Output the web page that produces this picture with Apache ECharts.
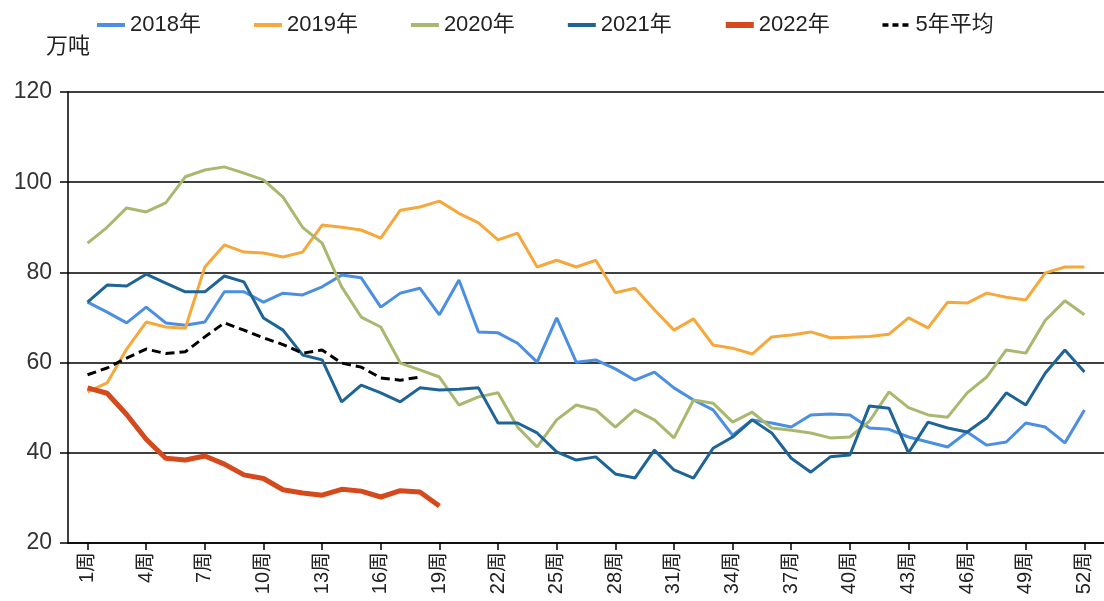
<!DOCTYPE html>
<html>
<head>
<meta charset="utf-8">
<script src="https://cdn.jsdelivr.net/npm/echarts@6/dist/echarts.min.js"></script>
<style>html,body{margin:0;padding:0;background:#fff}#c{width:1104px;height:601px}</style>
</head>
<body>
<div id="c"></div>
<script>
const weeks = Array.from({length: 52}, (_, i) => (i + 1) + '周');
const yTicks = [20, 40, 60, 80, 100, 120];
const unitLabel = '万吨';
const seriesNames = ['2018年', '2019年', '2020年', '2021年', '2022年', '5年平均'];
const y2018 = [73.4,71.2,68.8,72.3,68.8,68.3,69,75.7,75.7,73.4,75.4,75,76.8,79.4,78.8,72.3,75.4,76.5,70.6,78.3,66.8,66.6,64.3,60.1,69.9,60.1,60.6,58.6,56.1,57.9,54.4,51.7,49.5,43.9,47.3,46.6,45.7,48.4,48.6,48.4,45.5,45.2,43.5,42.4,41.3,44.6,41.7,42.4,46.6,45.7,42.2,49.5];
const y2019 = [53.5,55.5,63,69,67.9,67.6,81.2,86.1,84.5,84.3,83.4,84.5,90.5,90,89.4,87.6,93.8,94.5,95.8,93.1,91,87.2,88.7,81.2,82.7,81.2,82.7,75.5,76.5,71.7,67.2,69.7,63.9,63.2,61.9,65.7,66.1,66.8,65.5,65.6,65.8,66.3,69.9,67.7,73.4,73.2,75.4,74.5,73.9,79.9,81.2,81.2];
const y2020 = [86.5,90,94.3,93.4,95.4,101.2,102.7,103.4,102,100.5,96.7,90,86.5,76.8,70.1,67.9,59.9,58.4,56.8,50.6,52.4,53.3,45.7,41.3,47.3,50.6,49.5,45.7,49.5,47.3,43.3,51.7,51,46.8,49,45.5,45,44.4,43.3,43.5,47,53.5,50,48.4,47.9,53.3,56.8,62.8,62.1,69.4,73.7,70.6];
const y2021 = [73.4,77.2,77,79.6,77.6,75.7,75.7,79.2,77.9,69.9,67.2,61.7,60.6,51.3,55,53.3,51.3,54.4,53.9,54.1,54.4,46.6,46.6,44.4,40.2,38.4,39.1,35.3,34.4,40.6,36.2,34.4,41,43.5,47.3,44.4,38.8,35.7,39.1,39.5,50.4,49.9,40,46.8,45.5,44.6,47.7,53.3,50.6,57.7,62.8,57.9];
const y2022 = [54.4,53.2,48.5,43,38.8,38.4,39.3,37.5,35.1,34.3,31.8,31.1,30.6,31.9,31.5,30.2,31.6,31.3,28.2];
const yAvg = [57.3,58.8,61,63,62,62.4,65.7,68.8,67.2,65.5,64,62.1,62.8,59.9,59,56.6,56.1,56.8];

const FONT = '"Liberation Sans", "Noto Sans CJK SC", sans-serif';
const cats = [''].concat(weeks, ['']);
const pad = arr => [null].concat(arr);
const showLabel = (idx, val) => val !== '' && ((idx - 1) % 3 === 0);

const colors = ['#4b8fe3', '#f5a83c', '#a9b86f', '#1e6496', '#d44a1c', '#000000'];
const datas = [y2018, y2019, y2020, y2021, y2022, yAvg];
const widths = [3, 3, 3, 3, 5, 3];
const legendWidths = [4, 4, 4, 4, 6, 3.5];

const chart = echarts.init(document.getElementById('c'), null, {renderer: 'canvas'});
chart.setOption({
  animation: false,
  color: colors,
  grid: {left: 68, top: 92, right: -4, bottom: 58, containLabel: false},
  legend: {
    left: 90, top: 9,
    itemWidth: 28, itemHeight: 14, itemGap: 51,
    itemStyle: {opacity: 0},
    textStyle: {fontFamily: FONT, fontSize: 22, color: '#222'},
    data: seriesNames.map((n, i) => ({
      name: n,
      itemStyle: {opacity: 0},
      lineStyle: {width: legendWidths[i], color: colors[i], type: i === 5 ? [6, 4] : 'solid'}
    }))
  },
  xAxis: {
    type: 'category',
    data: cats,
    boundaryGap: false,
    axisLine: {lineStyle: {color: '#000', width: 1.5}},
    axisTick: {show: true, interval: showLabel, length: 7, lineStyle: {color: '#000', width: 1.5}},
    axisLabel: {interval: showLabel, rotate: 90, margin: 9, fontFamily: FONT, fontSize: 20, color: '#222'},
    splitLine: {show: false}
  },
  yAxis: {
    type: 'value',
    min: yTicks[0], max: yTicks[yTicks.length - 1], interval: 20,
    name: unitLabel,
    nameLocation: 'end',
    nameGap: 34,
    nameTextStyle: {fontFamily: FONT, fontSize: 22, color: '#222', align: 'center'},
    axisLine: {show: true, lineStyle: {color: '#000', width: 1.5}},
    axisTick: {show: true, length: 8, lineStyle: {color: '#000', width: 1.5}},
    axisLabel: {fontFamily: FONT, fontSize: 23, color: '#333', margin: 16},
    splitLine: {show: true, lineStyle: {color: '#000', width: 1.5}}
  },
  series: seriesNames.map((n, i) => ({
    name: n,
    type: 'line',
    data: pad(datas[i]),
    symbol: 'none',
    connectNulls: false,
    z: i === 5 ? 10 : (i === 4 ? 9 : 2 + i),
    lineStyle: {color: colors[i], width: widths[i], type: i === 5 ? [9, 5] : 'solid'},
    itemStyle: {color: colors[i]}
  }))
});
</script>
</body>
</html>
